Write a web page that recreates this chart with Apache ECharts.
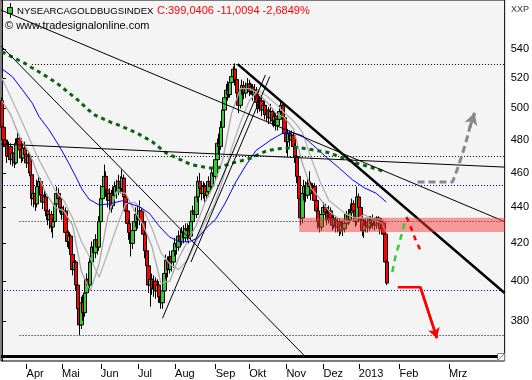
<!DOCTYPE html>
<html><head><meta charset="utf-8">
<script src="https://cdn.jsdelivr.net/npm/echarts@6/dist/echarts.min.js"></script>
<style>html,body{margin:0;padding:0;background:#fff;}#c{width:532px;height:380px;}</style>
</head><body><div id="c"></div>
<script>
// ---------- DATA ----------
// Candles [open, close, low, high], trading days from 2012-03-13 to 2013-01-25
const candlesMarApr = [
[505,488,486,507],[488,480,476,492],[480,476,472,485],[477,470,466,480],[470,476,468,479],
[476,468,465,478],[468,472,464,475],[472,466,463,476],[466,478,465,481],[478,481,474,485],
[481,474,471,483],[474,469,466,477],[469,475,467,478],[475,471,468,479],[471,466,463,474],
[466,470,462,473],[470,460,458,472],[459,445,441,461],[445,448,440,452],[448,442,438,451],
[442,452,440,456],[452,455,449,458],[455,447,444,457],[447,443,439,449],[443,446,440,450],
[446,438,435,448],[438,433,430,440],[433,436,428,439],[436,429,426,438],[429,432,423,434],
[432,442,431,444],[442,448,440,452],[448,445,441,451],[445,440,437,447]
];
const candlesMayJun = [
[440,436,433,443],[436,438,431,441],[438,426,423,440],[426,421,418,428],[421,424,417,427],
[424,414,410,425],[414,406,403,416],[406,410,401,413],[410,398,395,411],[398,386,382,400],
[386,378,373,389],[378,389,376,392],[389,384,380,393],[384,394,382,397],[394,401,391,404],
[401,398,394,405],[398,410,396,413],[410,418,407,421],[418,415,410,422],[415,422,412,425],
[422,418,414,427],[418,432,416,435],[432,445,430,448],[445,452,441,456],[452,458,449,465],
[458,450,446,461],[450,444,440,453],[444,448,438,451],[448,441,437,450],[441,447,439,452],
[447,452,444,455],[452,449,445,456],[449,455,447,459],[455,451,448,458],[451,457,449,462],
[457,446,443,459],[446,438,434,448],[438,431,427,440],[431,426,422,433],[426,420,413,428],
[420,427,417,430]
];
const candlesJulAug = [
[427,432,424,436],[432,436,429,440],[436,433,428,441],[433,438,430,444],[438,432,428,440],
[432,425,420,434],[425,416,412,427],[416,408,405,418],[408,398,394,410],[398,401,387,404],
[401,396,393,404],[396,400,392,403],[400,395,391,402],[395,398,392,401],[398,392,389,400],
[392,389,386,394],[389,395,386,397],[395,404,393,406],[404,411,401,414],[411,406,402,413],
[406,413,404,416],[413,410,405,416],[410,416,407,418],[416,420,413,423],[420,418,414,424],
[418,424,416,427],[424,421,418,428],[421,426,419,429],[426,423,420,430],[423,428,421,431],
[428,427,421,431],[427,424,420,430],[424,432,422,434],[432,438,429,441],[438,436,432,440],
[436,446,434,449],[446,455,443,458],[455,451,447,460],[451,448,444,454],[448,452,445,455],
[452,447,443,454],[447,449,444,452],[449,455,446,458],[455,452,449,458]
];
const candlesSepOct = [
[452,460,450,463],[460,458,453,465],[458,468,456,471],[468,478,465,481],[478,476,471,484],
[476,488,474,492],[488,499,485,503],[499,507,496,511],[507,512,503,516],[512,509,505,518],
[509,517,507,520],[517,521,513,524],[521,526,518,528],[526,519,515,530],[519,510,505,523],
[510,502,497,513],[502,512,500,515],[512,515,509,519],[515,510,506,518],[510,513,507,517],
[513,516,510,520],[516,511,508,519],[511,514,509,517],[514,509,505,516],[509,512,506,516],
[512,504,500,514],[504,500,497,507],[500,505,498,508],[505,499,495,507],[499,502,496,505],
[502,496,493,505],[496,499,492,502],[499,494,490,501],[494,498,491,503],[498,492,489,500],
[492,495,488,498],[495,489,486,497],[489,493,486,496],[493,498,490,501],[498,502,495,505]
];
const candlesNovJan = [
[502,494,491,504],[494,484,480,496],[484,479,472,487],[479,484,470,487],[484,480,476,486],
[480,483,476,486],[483,476,473,485],[476,470,466,478],[470,458,454,472],[458,445,440,460],
[445,434,430,447],[434,448,431,451],[448,452,444,456],[452,447,443,455],[447,454,445,457],
[454,452,448,461],[452,448,444,455],[448,452,445,454],[452,444,440,454],[444,438,435,446],
[438,432,428,440],[432,429,426,436],[429,436,427,439],[436,440,433,443],[440,437,433,442],
[437,433,430,440],[433,438,431,441],[438,434,430,440],[434,430,427,436],[430,433,428,436],
[433,429,426,435],[429,432,426,434],[432,427,424,434],[427,430,425,432],[430,428,424,433],
[428,431,426,433],[431,436,429,438],[436,433,430,439],[433,437,431,439],[437,442,435,445],
[442,438,434,444],[438,432,429,440],[432,446,430,452],[446,440,436,448],[440,433,429,441],
[433,427,424,435],[427,430,423,433],[430,432,426,434],[432,429,426,434],[429,433,427,435],
[433,431,428,435],[431,433,428,436],[433,430,427,434],[430,434,428,435],[434,431,428,435],
[431,428,425,433],[428,432,426,434],[432,425,422,433],[425,410,407,426],[410,399,398,411]
];
// Moving averages: [day index, value]
const maGreen = [[0,538],[4,535.5],[13,530],[17,527],[22,523.5],[30,517.5],[34,514],[38,510],[42,506.5],[49,499],[53,495.5],[58,493],[62,491],[67,489],[72,486.5],[77,484],[81,481.5],[85,479],[89,475.5],[93,472],[98,469.5],[102,467.5],[107,465],[112,464],[117,463],[122,463],[129,465.5],[136,467.5],[141,469],[149,473],[155,474.5],[161,475],[167,475.5],[173,474.5],[178,473.5],[184,472.5],[188,471],[193,469],[197,467.5],[202,465.5],[207,464],[216,461]];
const maBlue = [[0,526.3],[5.9,521],[11.6,512.2],[17.2,503.4],[21,494.8],[26.7,486.3],[32.4,476.4],[38,465.6],[41.8,457.8],[45.6,450],[49.4,444.6],[55,441.4],[60.7,442],[68.2,443.8],[72,442.3],[77.7,440.4],[83.4,436.7],[89,429.5],[94.7,423.6],[100.3,420.9],[106,420.9],[110.7,422.8],[115.5,428.3],[121.1,433.5],[126.4,442.5],[132.5,454.9],[138.1,464.6],[143.8,473.6],[152.3,480.1],[158.9,484.3],[164.5,484.6],[170.2,482.6],[175.9,477],[183.5,469.6],[191,462.8],[198.5,455.9],[205.2,451.2],[211.8,448.1],[217.5,443.1]];
const maGrayFast = [[0,505],[5,496],[10,482],[16,471],[20,460],[25,448],[30,440],[35,438],[40,430],[45,405],[50,395],[55,409],[60,435],[65,449],[70,448],[75,438],[80,430],[85,418],[90,399],[95,400],[100,412],[105,421],[110,430],[115,443],[120,453],[125,468],[130,497],[135,513],[140,513],[145,510],[150,504],[155,497],[160,494],[165,487],[170,466],[175,451],[180,445],[185,438],[190,434],[195,432],[200,433],[205,436],[210,433],[215,431],[218,425]];
const maGraySlow = [[0,520],[10,495],[20,470],[25,460],[30,450],[35,444],[40,434],[45,421],[50,412],[55,402],[60,415],[65,429],[70,442],[75,443],[80,439],[85,428],[90,415],[95,409],[100,406],[105,411],[110,421],[115,432],[120,441],[125,456],[130,475],[135,491],[140,505],[145,512],[150,508],[155,503],[160,497],[165,492],[170,485],[175,469],[180,455],[185,444],[190,440],[195,436],[200,434],[205,434],[210,434],[215,433],[218,431]];
// Trend lines [day index, value]
const trendThick = [[133.4,529.5],[284.5,393.9]];
const trendUpper = [[-0.5,567.8],[284.5,432.0]];
const trendFlat = [[-0.5,477.5],[284.5,463.5]];
const trendDiag = [[-0.5,542.1],[171.4,363.1]];
const trendUpA = [[90.9,381.3],[149.1,522.1]];
const trendUpB = [[107.0,410.0],[151.6,521.0]];
// Horizontal levels [value, first day index]
const levelsBlack = [[529.5,17],[470.0,17],[432.1,10],[373.1,10]];
const levelsBlue = [[452.7,1.2],[395.5,1.2]];
const zone = {from:168.3, to:284.5, low:426.3, high:434.1};
// Projections
const projGreen = [[220.9,404.8],[222.7,412.9],[224.6,419.2],[226.3,425.2],[227.8,431.1],[229.0,434.1]];
const projRed = [[229.0,434.6],[232.0,427.4],[234.5,420.9],[237.3,415.5]];
const projRedArrow = [[224.0,396.9],[236.8,396.9],[246.2,371.6]];
const projGrayArrow = [[235.2,454.7],[255.0,454.7],[257.5,461.6],[260.0,469.6],[262.4,477.8],[264.7,487.5],[267.5,497.2]];
const scrollBar = [[-0.5,362.9],[280.5,362.9]];
const yTicks = [380,400,420,440,460,480,500,520,540];
const monthNames = ['2013','Feb','Mrz','Apr','Mai','Jun','Jul','Aug','Sep','Okt','Nov','Dez'];
const holidays = ['2012-04-06','2012-05-28','2012-07-04','2012-09-03','2012-10-29','2012-10-30','2012-11-22','2012-12-25','2013-01-01','2013-01-21'];
const TOTAL_SLOTS = 285;

// ---------- BUILD ----------
const candles = [].concat(candlesMarApr, candlesMayJun, candlesJulAug, candlesSepOct, candlesNovJan);
const dates = [];
let t = Date.UTC(2012,2,13);
while (dates.length < TOTAL_SLOTS) {
  const d = new Date(t); const s = d.toISOString().slice(0,10); const wd = d.getUTCDay();
  if (dates.length >= candles.length || (wd > 0 && wd < 6 && holidays.indexOf(s) < 0)) dates.push(s);
  t += 86400000;
}
const monthStart = dates.map((s,i)=> i>0 && i<280 && s.slice(5,7)!==dates[i-1].slice(5,7));

function ln(data, style, z, extra){
  return Object.assign({type:'line', xAxisIndex:1, yAxisIndex:0, data:data, symbol:'none', showSymbol:false,
    lineStyle:style, silent:true, animation:false, z:z||4}, extra||{});
}
function arrowMark(p1, p2, style, size){
  return {silent:true, z:9, symbol:['none','arrow'], symbolSize:size, label:{show:false}, animation:false,
    lineStyle:style, data:[[{coord:p1},{coord:p2}]]};
}
const levelMarks = levelsBlack.map(l=>[{coord:[l[1],l[0]], lineStyle:{color:'#000',type:[1,2],width:1}},{coord:[284.5,l[0]]}])
  .concat(levelsBlue.map(l=>[{coord:[l[1],l[0]], lineStyle:{color:'#0000cc',type:[1,2],width:1}},{coord:[284.5,l[0]]}]));

const chart = echarts.init(document.getElementById('c'), null, {renderer:'canvas'});
const FONT = 'Liberation Sans';
chart.setOption({
  animation:false,
  backgroundColor:'#fff',
  grid:{left:1, right:27, top:0, bottom:19, show:true, backgroundColor:'#f4f4f4', borderColor:'#000', borderWidth:1},
  xAxis:[
    {type:'category', data:dates, boundaryGap:true, offset:3,
     axisLine:{show:false},
     axisTick:{show:true, alignWithLabel:true, length:5, interval:(i)=>monthStart[i], lineStyle:{color:'#000'}},
     axisLabel:{interval:(i)=>monthStart[i], align:'left', margin:4, color:'#000', fontSize:11, fontFamily:FONT,
       formatter:(v)=>monthNames[+v.slice(5,7)-1]},
     splitLine:{show:false}},
    {type:'value', min:-0.5, max:284.5, show:false}
  ],
  yAxis:[{type:'log', logBase:10, min:360.8, max:575.2, position:'right',
    axisLine:{show:true, lineStyle:{color:'#000'}},
    axisTick:{show:true, length:4, customValues:yTicks, lineStyle:{color:'#000'}},
    axisLabel:{customValues:yTicks, color:'#000', fontSize:11, fontFamily:FONT, margin:6},
    splitLine:{show:false}}],
  series:[
    ln(scrollBar, {color:'#000', width:3}, 2, {markLine:{silent:true, z:2, symbol:['none','none'], label:{show:false}, animation:false, data:levelMarks}}),
    {type:'candlestick', xAxisIndex:0, yAxisIndex:0, data:candles, barWidth:4, silent:true, animation:false, z:3,
     itemStyle:{color:'#33cc33', color0:'#ff0000', borderColor:'#000', borderColor0:'#000', borderWidth:1}},
    ln(maGraySlow, {color:'#b4b4b4', width:1.3}, 4),
    ln(maGrayFast, {color:'#a8a8a8', width:1.3}, 4),
    ln(maBlue, {color:'#0000ff', width:1}, 4),
    ln(maGreen, {color:'#0a640a', width:3, type:[4,4]}, 5),
    ln(trendUpper, {color:'#000', width:1}, 6),
    ln(trendFlat, {color:'#000', width:1}, 6),
    ln(trendDiag, {color:'#000', width:1}, 6),
    ln(trendUpA, {color:'#000', width:1}, 6),
    ln(trendUpB, {color:'#000', width:1}, 6),
    ln(trendThick, {color:'#000', width:2.5}, 6),
    ln([[zone.from,zone.low],[zone.to,zone.low]], {opacity:0}, 8, {markArea:{silent:true, z:8, animation:false,
       itemStyle:{color:'rgba(245,60,60,0.5)'}, label:{show:false},
       data:[[{coord:[zone.from,zone.high]},{coord:[zone.to,zone.low]}]]}}),
    ln(projGreen, {color:'#33cc33', width:2.5, type:[6,5]}, 9),
    ln(projRed, {color:'#ff0000', width:2.5, type:[5,5]}, 9),
    ln(projRedArrow, {color:'#ff0000', width:2.5}, 9, {markLine:arrowMark(projRedArrow[1], projRedArrow[2], {color:'#ff0000', width:2.5, type:'solid'}, [9,10])}),
    ln(projGrayArrow, {color:'#888888', width:3, type:[7,4]}, 9, {markLine:arrowMark(projGrayArrow[5], projGrayArrow[6], {color:'#888888', width:3, type:[7,4]}, [10,12])})
  ],
  graphic:[
    {type:'line', shape:{x1:10.5,y1:3,x2:10.5,y2:18}, style:{stroke:'#000', lineWidth:1}},
    {type:'rect', shape:{x:7.5,y:7.5,width:5,height:6}, style:{fill:'#33cc33', stroke:'#000', lineWidth:1}},
    {type:'text', x:17, y:11, style:{text:'NYSEARCAGOLDBUGSINDEX', fill:'#000', font:'9.6px "Liberation Sans"', verticalAlign:'middle', textVerticalAlign:'middle'}},
    {type:'text', x:157, y:11, style:{text:'C:399,0406 -11,0094 -2,6849%', fill:'#ff0000', font:'11px "Liberation Sans"', verticalAlign:'middle', textVerticalAlign:'middle'}},
    {type:'text', x:5, y:26, style:{text:'\u00a9 www.tradesignalonline.com', fill:'#000', font:'11px "Liberation Sans"', verticalAlign:'middle', textVerticalAlign:'middle'}},
    {type:'text', x:511, y:10, style:{text:'XXP', fill:'#333', font:'9px "Liberation Sans"', verticalAlign:'middle', textVerticalAlign:'middle'}},
    {type:'rect', shape:{x:497.5,y:353.5,width:7,height:7}, style:{fill:'#fff', stroke:'#888', lineWidth:1}},
    {type:'line', shape:{x1:498,y1:360,x2:504,y2:354}, style:{stroke:'#888', lineWidth:1}}
  ]
});
</script></body></html>
